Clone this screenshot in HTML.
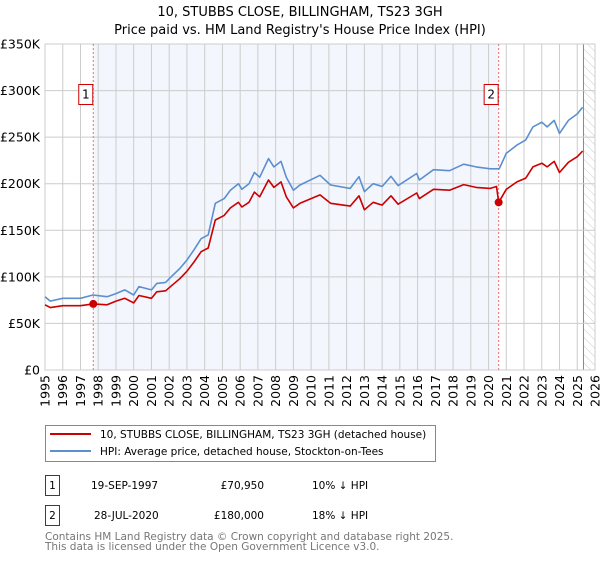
<!DOCTYPE html>
<html><head><meta charset="utf-8"><style>
body{margin:0;background:#fff;width:600px;height:560px;overflow:hidden;font-family:"DejaVu Sans","Liberation Sans",sans-serif}
svg text{font-family:"DejaVu Sans","Liberation Sans",sans-serif}
</style></head><body>
<svg id="c" width="600" height="560" xmlns="http://www.w3.org/2000/svg">
<defs><pattern id="hatch" width="6" height="6" patternUnits="userSpaceOnUse" patternTransform="rotate(-45)"><line x1="0" y1="0" x2="0" y2="6" stroke="#ccc" stroke-width="1"/></pattern></defs>
<text x="300" y="16" text-anchor="middle" font-size="13" fill="#000">10, STUBBS CLOSE, BILLINGHAM, TS23 3GH</text>
<text x="300" y="34" text-anchor="middle" font-size="13" fill="#000">Price paid vs. HM Land Registry's House Price Index (HPI)</text>
<g id="plot"></g>
<g>
<rect x="45.5" y="425.5" width="390" height="36" fill="#fff" stroke="#888"/>
<line x1="50" y1="434" x2="91" y2="434" stroke="#cc0000" stroke-width="2"/>
<text x="100" y="438" font-size="10.5">10, STUBBS CLOSE, BILLINGHAM, TS23 3GH (detached house)</text>
<line x1="50" y1="451" x2="91" y2="451" stroke="#5b8fd0" stroke-width="2"/>
<text x="100" y="455" font-size="10.5">HPI: Average price, detached house, Stockton-on-Tees</text>
</g>
<g font-size="10.5">
<rect x="45.5" y="475.5" width="14" height="20" fill="#fff" stroke="#cc0000"/>
<text x="52.5" y="489" text-anchor="middle">1</text>
<text x="91" y="489">19-SEP-1997</text>
<text x="264" y="489" text-anchor="end">£70,950</text>
<text x="312" y="489">10% ↓ HPI</text>
<rect x="45.5" y="505.5" width="14" height="20" fill="#fff" stroke="#cc0000"/>
<text x="52.5" y="519" text-anchor="middle">2</text>
<text x="94" y="519">28-JUL-2020</text>
<text x="264" y="519" text-anchor="end">£180,000</text>
<text x="312" y="519">18% ↓ HPI</text>
</g>
<text x="45" y="540" font-size="10.5" fill="#777">Contains HM Land Registry data © Crown copyright and database right 2025.</text>
<text x="45" y="550" font-size="10.5" fill="#777">This data is licensed under the Open Government Licence v3.0.</text>
</svg>
<script>
const hpiYears=[1995.0,1995.3,1996,1997,1997.7,1998.5,1999,1999.5,2000,2000.3,2001,2001.3,2001.8,2002.1,2002.6,2003,2003.4,2003.8,2004.2,2004.6,2005.1,2005.45,2005.9,2006.1,2006.5,2006.8,2007.1,2007.6,2007.9,2008.3,2008.6,2009,2009.37,2010.5,2011.1,2012.2,2012.7,2013,2013.5,2014,2014.5,2014.9,2015.95,2016.1,2016.9,2017.8,2018.6,2019.3,2020.1,2020.6,2021,2021.6,2022.1,2022.5,2023,2023.3,2023.7,2024,2024.5,2025,2025.3];
const hpiValues=[78.7,74,77,77,80.5,78.7,82,86,80.5,89.5,86,93,94,100,109,118,129,141,145,179,184,193,200,194,200,212,207,227,218,224,207,193,198.6,209,198.6,195,207.5,191.5,200,197,208,198,211,204,215,214,221,218,216,216,232.6,241.5,247,261,266,261,268,254,268,275,282];
const priceYears=[1995.0,1995.3,1996,1997,1997.72,1998.5,1999,1999.5,2000,2000.3,2001,2001.3,2001.8,2002.1,2002.6,2003,2003.4,2003.8,2004.2,2004.6,2005.1,2005.45,2005.9,2006.1,2006.5,2006.8,2007.1,2007.6,2007.9,2008.3,2008.6,2009,2009.37,2010.5,2011.1,2012.2,2012.7,2013,2013.5,2014,2014.5,2014.9,2015.95,2016.1,2016.9,2017.8,2018.6,2019.3,2020.1,2020.45,2020.57,2021,2021.6,2022.1,2022.5,2023,2023.3,2023.7,2024,2024.5,2025,2025.3];
const priceValues=[70,67,69,69,70.95,70,74,77,72,80,77,84,85,90,98,106,116,127,131,161,166,174,180,175,180,191,186,204,196,202,186,174,179,188,179,176,187,172,180,177,187,178,190,184,194,193,199,196,195,197,180,194,202,206,218,222,218,224,212,223,229,235];
const sales=[[1997.72,70950,"1"],[2020.57,180000,"2"]];
const yTicks=[0,50,100,150,200,250,300,350];
const yTickLabels=["£0","£50K","£100K","£150K","£200K","£250K","£300K","£350K"];
const xTicks=[1995,1996,1997,1998,1999,2000,2001,2002,2003,2004,2005,2006,2007,2008,2009,2010,2011,2012,2013,2014,2015,2016,2017,2018,2019,2020,2021,2022,2023,2024,2025,2026];

const NS="http://www.w3.org/2000/svg";
const X0=45,X1=595,Y0=370,Y1=44;
const sx=y=>X0+(y-1995)/(2026-1995)*(X1-X0);
const sy=v=>Y0-v/350*(Y0-Y1);
const plot=document.getElementById('plot');
function mk(tag,attrs,parent){const e=document.createElementNS(NS,tag);for(const k in attrs)e.setAttribute(k,attrs[k]);(parent||plot).appendChild(e);return e;}

let bg=mk('rect',{x:X0,y:Y1,width:X1-X0,height:Y0-Y1,fill:'#fff'});


let sh=mk('rect',{x:sx(sales[0][0]),y:Y1,width:sx(sales[1][0])-sx(sales[0][0]),height:Y0-Y1,fill:'#f0f4fc',opacity:0.8});


let ht=mk('rect',{x:sx(2025.35),y:Y1,width:X1-sx(2025.35),height:Y0-Y1,fill:'url(#hatch)'});


let hl=mk('line',{x1:sx(2025.35),x2:sx(2025.35),y1:Y1,y2:Y0,stroke:'#888','stroke-width':1});



yTicks.forEach((t,i)=>{
  let g=mk('line',{x1:X0,x2:X1,y1:sy(t),y2:sy(t),stroke:'#ccc','stroke-width':1});
  
  
  let tx=mk('text',{x:40,y:sy(t)+4.5,'text-anchor':'end','font-size':12.5,fill:'#000'});
  tx.textContent=yTickLabels[i];
  
  
});
xTicks.forEach(t=>{
  let g=mk('line',{x1:sx(t),x2:sx(t),y1:Y1,y2:Y0,stroke:'#ccc','stroke-width':1});
  
  
  let tx=mk('text',{x:0,y:0,'text-anchor':'end','font-size':12.5,fill:'#000',transform:`translate(${sx(t)+4.5},375) rotate(-90)`});
  tx.textContent=t;
  
  
});
let fr=mk('rect',{x:X0,y:Y1,width:X1-X0,height:Y0-Y1,fill:'none',stroke:'#ccc'});



sales.forEach(s=>{
  let l=mk('line',{x1:sx(s[0]),x2:sx(s[0]),y1:Y1,y2:Y0,stroke:'#f07070','stroke-width':1,'stroke-dasharray':'2,2'});
  
  
  let r=mk('rect',{x:sx(s[0])-14.5,y:84.5,width:14,height:20,fill:'#fff',stroke:'#cc0000'});
  
  
  let t=mk('text',{x:sx(s[0])-7.5,y:98.5,'text-anchor':'middle','font-size':12});
  t.textContent=s[2];
  
  
});

function line(xs,vs,color,name){
  const d=xs.map((y,i)=>(i?'L':'M')+sx(y).toFixed(1)+','+sy(vs[i]).toFixed(1)).join('');
  const p=mk('path',{d:d,fill:'none',stroke:color,'stroke-width':1.6,'stroke-linejoin':'round'});
  
  
}
line(hpiYears,hpiValues,'#5b8fd0','hpi-line');
line(priceYears,priceValues,'#cc0000','price-paid-line');
sales.forEach(s=>{
  let c=mk('circle',{cx:sx(s[0]),cy:sy(s[1]/1000),r:4,fill:'#cc0000'});
  
  
});
</script>
</body></html>
